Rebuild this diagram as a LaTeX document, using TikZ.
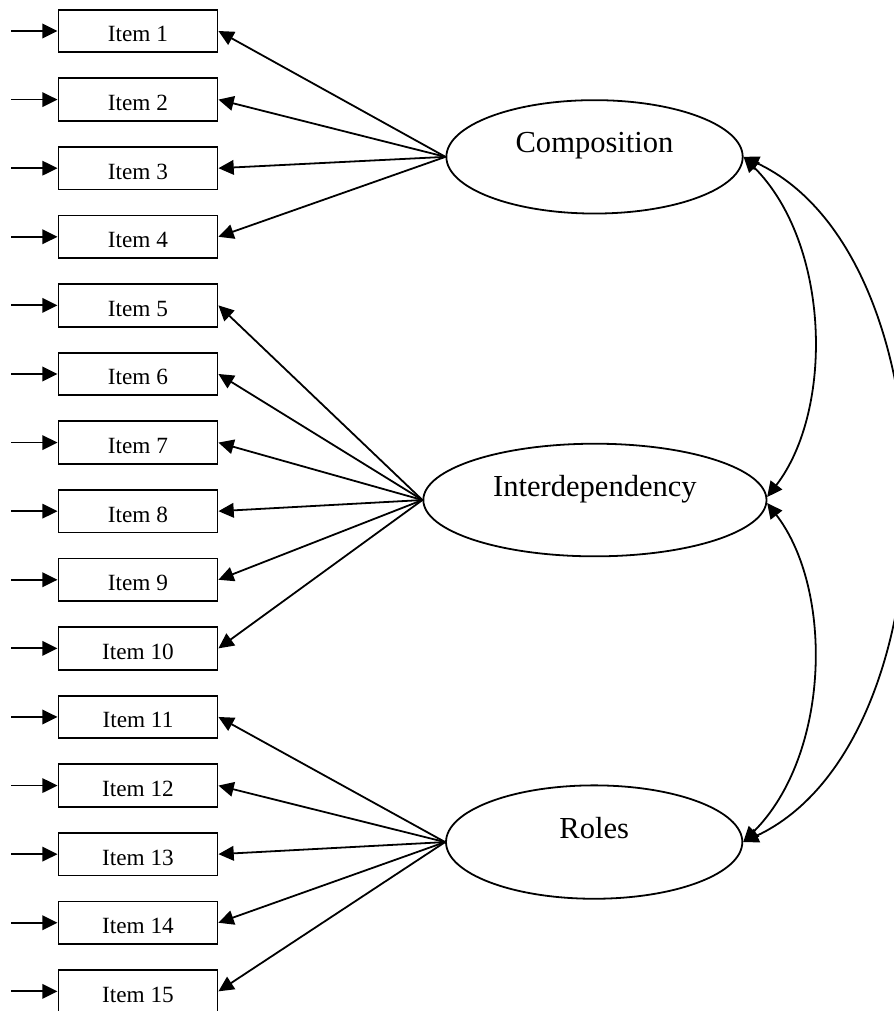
\documentclass[tikz,border=0pt]{standalone}
\usepackage{fontspec}
\setmainfont{Liberation Serif}
\usepackage{tikz}
\usetikzlibrary{shapes,arrows,arrows.meta}
\tikzstyle{arrow} = [line width=1.35pt, -{Triangle[length=11.5pt,width=11pt]}]
\tikzstyle{twoway} = [line width=1.35pt, {Triangle[length=11.5pt,width=11pt]}-{Triangle[length=11.5pt,width=11pt]}]
\tikzstyle{item} = [rectangle, minimum width=4.21cm, minimum height=1.13cm, draw=black, line width=1.35pt, font=\fontsize{17.5}{20}\selectfont, text height=16.5pt, text depth=0pt]
\tikzstyle{factor} = [ellipse, draw=black, line width=1.35pt, inner sep=0pt, font=\fontsize{23}{26}\selectfont]
\newcommand{\ftext}[1]{\raisebox{3pt}[0pt][0pt]{#1}}

\begin{document}
\begin{tikzpicture}
        \useasboundingbox (-3.651,0.820) rectangle (20.0,-25.93);

        % items
        \node (1) [item] {Item 1};
        \node (2) [item, yshift=-1.815cm] {Item 2};
        \node (3) [item, yshift=-3.63cm] {Item 3};
        \node (4) [item, yshift=-5.445cm] {Item 4};
        \node (5) [item, yshift=-7.26cm] {Item 5};
        \node (6) [item, yshift=-9.075cm] {Item 6};
        \node (7) [item, yshift=-10.89cm] {Item 7};
        \node (8) [item, yshift=-12.705cm] {Item 8};
        \node (9) [item, yshift=-14.52cm] {Item 9};
        \node (10) [item, yshift=-16.335cm] {Item 10};
        \node (11) [item, yshift=-18.15cm] {Item 11};
        \node (12) [item, yshift=-19.965cm] {Item 12};
        \node (13) [item, yshift=-21.78cm] {Item 13};
        \node (14) [item, yshift=-23.595cm] {Item 14};
        \node (15) [item, yshift=-25.41cm] {Item 15};

        % error terms
        \coordinate (e1) at ([xshift=-1.22cm]1.west);
        \coordinate (e2) at ([xshift=-1.22cm]2.west);
        \coordinate (e3) at ([xshift=-1.22cm]3.west);
        \coordinate (e4) at ([xshift=-1.22cm]4.west);
        \coordinate (e5) at ([xshift=-1.22cm]5.west);
        \coordinate (e6) at ([xshift=-1.22cm]6.west);
        \coordinate (e7) at ([xshift=-1.22cm]7.west);
        \coordinate (e8) at ([xshift=-1.22cm]8.west);
        \coordinate (e9) at ([xshift=-1.22cm]9.west);
        \coordinate (e10) at ([xshift=-1.22cm]10.west);
        \coordinate (e11) at ([xshift=-1.22cm]11.west);
        \coordinate (e12) at ([xshift=-1.22cm]12.west);
        \coordinate (e13) at ([xshift=-1.22cm]13.west);
        \coordinate (e14) at ([xshift=-1.22cm]14.west);
        \coordinate (e15) at ([xshift=-1.22cm]15.west);

        \draw[arrow] (e1) -- (1);
        \draw[arrow] (e2) -- (2);
        \draw[arrow] (e3) -- (3);
        \draw[arrow] (e4) -- (4);
        \draw[arrow] (e5) -- (5);
        \draw[arrow] (e6) -- (6);
        \draw[arrow] (e7) -- (7);
        \draw[arrow] (e8) -- (8);
        \draw[arrow] (e9) -- (9);
        \draw[arrow] (e10) -- (10);
        \draw[arrow] (e11) -- (11);
        \draw[arrow] (e12) -- (12);
        \draw[arrow] (e13) -- (13);
        \draw[arrow] (e14) -- (14);
        \draw[arrow] (e15) -- (15);

        % factors
        \node (C) [factor, xshift=12.08cm, yshift=-3.33cm, minimum width=7.84cm, minimum height=3.0cm] {\ftext{Composition}};
        \node (I) [factor, xshift=12.09cm, yshift=-12.41cm, minimum width=9.08cm, minimum height=2.98cm] {\ftext{Interdependency}};
        \node (R) [factor, xshift=12.07cm, yshift=-21.46cm, minimum width=7.84cm, minimum height=3.0cm] {\ftext{Roles}};

        \draw[arrow] (C.west) -- (1.east);
        \draw[arrow] (C.west) -- (2.east);
        \draw[arrow] (C.west) -- (3.east);
        \draw[arrow] (C.west) -- (4.east);

        \draw[arrow] (I.west) -- (5.east);
        \draw[arrow] (I.west) -- (6.east);
        \draw[arrow] (I.west) -- (7.east);
        \draw[arrow] (I.west) -- (8.east);
        \draw[arrow] (I.west) -- (9.east);
        \draw[arrow] (I.west) -- (10.east);

        \draw[arrow] (R.west) -- (11.east);
        \draw[arrow] (R.west) -- (12.east);
        \draw[arrow] (R.west) -- (13.east);
        \draw[arrow] (R.west) -- (14.east);
        \draw[arrow] (R.west) -- (15.east);

        % correlations
        \draw[twoway] (C.east) .. controls +(2.3,-2.3) and +(1.77,2.3) .. (I.1.5);
        \draw[twoway] (I.-1.5) .. controls +(1.77,-2.3) and +(2.3,2.3) .. (R.east);
        \draw[twoway] (C.east) .. controls +(5.64,-2.65) and +(5.64,2.65) .. (R.east);

    \end{tikzpicture}
\end{document}
